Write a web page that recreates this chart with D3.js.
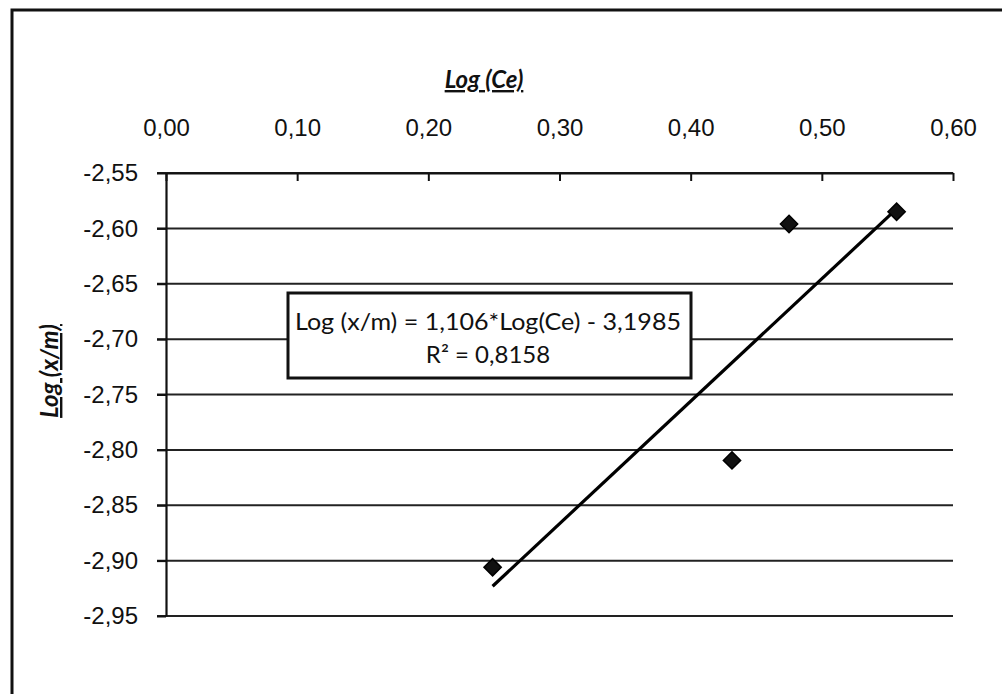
<!DOCTYPE html>
<html>
<head>
<meta charset="utf-8">
<script src="https://cdn.jsdelivr.net/npm/d3@7"></script>
<style>
  body { margin: 0; background: #fff; }
  svg { display: block; font-family: Lato, "Open Sans", sans-serif; }
</style>
</head>
<body>
<div id="wrapper"></div>
<script>
// data
const logCe = [0.249, 0.4315, 0.475, 0.557]
const logXm = [-2.906, -2.8095, -2.596, -2.585]
const xTicks = [0, 0.1, 0.2, 0.3, 0.4, 0.5, 0.6]
const yTicks = [-2.55, -2.60, -2.65, -2.70, -2.75, -2.80, -2.85, -2.90, -2.95]
const slope = 1.106
const intercept = -3.1985
const eqLines = ["Log (x/m) = 1,106*Log(Ce) - 3,1985", "R² = 0,8158"]

const W = 1002, H = 694
const fmt = v => d3.format(".2f")(v).replace(".", ",").replace("−", "-")

const svg = d3.select("#wrapper")
    .append("svg")
    .attr("width", W)
    .attr("height", H)

// outer frame (left and top edges show, the rest runs off the page)
svg.append("rect")
    .attr("x", 12).attr("y", 10)
    .attr("width", 1000).attr("height", 700)
    .attr("fill", "none")
    .attr("stroke", "#111")
    .attr("stroke-width", 3)

const x = d3.scaleLinear().domain([0, 0.6]).range([166, 953])
const y = d3.scaleLinear().domain([-2.95, -2.55]).range([616, 173])

// horizontal grid lines
svg.append("g")
    .selectAll("line")
    .data(yTicks)
    .join("line")
    .attr("x1", x(0) - 9).attr("x2", x(0.6))
    .attr("y1", d => y(d)).attr("y2", d => y(d))
    .attr("stroke", "#222")
    .attr("stroke-width", 2)

// top x axis, ticks pointing down
const xAxis = svg.append("g")
    .attr("transform", `translate(0,${y(-2.55)})`)
    .call(d3.axisTop(x).tickValues(xTicks).tickFormat(fmt).tickSize(-8).tickSizeOuter(0).tickPadding(37))
xAxis.select(".domain").attr("stroke", "#111").attr("stroke-width", 2.2)
xAxis.selectAll(".tick line").attr("stroke", "#111").attr("stroke-width", 2)
xAxis.selectAll("text").attr("font-size", 24).attr("fill", "#111")

// left y axis
const yAxis = svg.append("g")
    .attr("transform", `translate(${x(0)},0)`)
    .call(d3.axisLeft(y).tickValues(yTicks).tickFormat(fmt).tickSize(9).tickSizeOuter(0).tickPadding(19))
yAxis.select(".domain").attr("stroke", "#111").attr("stroke-width", 2.2)
yAxis.selectAll(".tick line").attr("stroke", "#111").attr("stroke-width", 2)
yAxis.selectAll("text").attr("font-size", 24).attr("fill", "#111")

// axis titles
svg.append("text")
    .attr("x", 484).attr("y", 88)
    .attr("text-anchor", "middle")
    .attr("font-size", 24)
    .attr("font-weight", "bold")
    .attr("font-style", "italic")
    .attr("text-decoration", "underline")
    .attr("fill", "#111")
    .text("Log (Ce)")

svg.append("text")
    .attr("transform", "translate(58,371) rotate(-90)")
    .attr("text-anchor", "middle")
    .attr("font-size", 24)
    .attr("font-weight", "bold")
    .attr("font-style", "italic")
    .attr("text-decoration", "underline")
    .attr("fill", "#111")
    .text("Log (x/m)")

// trend line over the data range
const xMin = d3.min(logCe), xMax = d3.max(logCe)
svg.append("line")
    .attr("x1", x(xMin)).attr("y1", y(slope * xMin + intercept))
    .attr("x2", x(xMax)).attr("y2", y(slope * xMax + intercept))
    .attr("stroke", "#000")
    .attr("stroke-width", 3.2)

// diamond markers
const pts = logCe.map((v, i) => ({x: v, y: logXm[i]}))
svg.append("g")
    .selectAll("path")
    .data(pts)
    .join("path")
    .attr("transform", d => `translate(${x(d.x)},${y(d.y)})`)
    .attr("d", d3.symbol(d3.symbolDiamond2, 190))
    .attr("fill", "#111")
    .attr("stroke", "#000")
    .attr("stroke-width", 1.5)

// equation box
const box = svg.append("g")
box.append("rect")
    .attr("x", 288).attr("y", 293)
    .attr("width", 403).attr("height", 85)
    .attr("fill", "#fff")
    .attr("stroke", "#111")
    .attr("stroke-width", 3)
box.selectAll("text")
    .data(eqLines)
    .join("text")
    .attr("x", 488)
    .attr("y", (d, i) => 330 + i * 33)
    .attr("text-anchor", "middle")
    .attr("font-size", 24)
    .attr("fill", "#111")
    .text(d => d)
// first line spans nearly the whole box in the reference
box.select("text")
    .attr("textLength", 386)
    .attr("lengthAdjust", "spacingAndGlyphs")
</script>
</body>
</html>
